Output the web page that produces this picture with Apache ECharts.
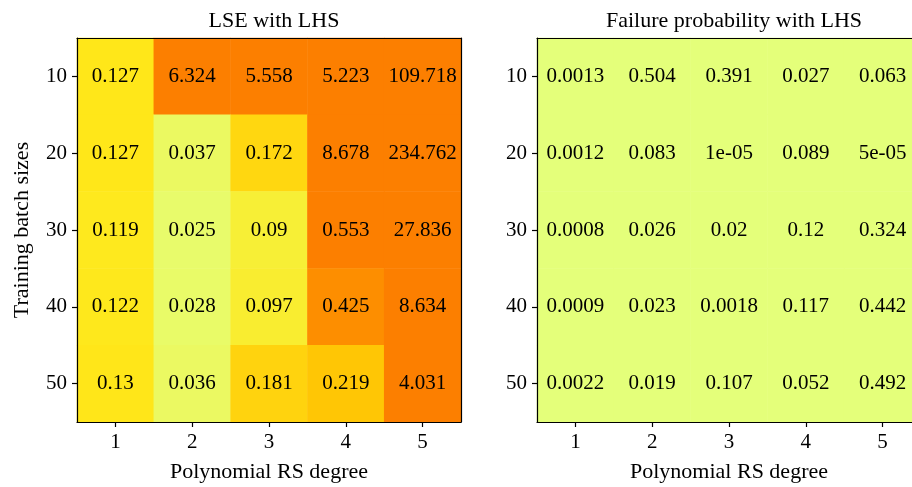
<!DOCTYPE html>
<html><head><meta charset="utf-8">
<script src="https://cdn.jsdelivr.net/npm/echarts@6/dist/echarts.min.js"></script>
<style>html,body{margin:0;padding:0;background:#fff}#c{width:912px;height:487px}</style>
</head><body><div id="c"></div>
<script>
const degrees = ['1', '2', '3', '4', '5'];
const batchSizes = ['10', '20', '30', '40', '50'];
const lseValues = [
  [0.127, 6.324, 5.558, 5.223, 109.718],
  [0.127, 0.037, 0.172, 8.678, 234.762],
  [0.119, 0.025, 0.09, 0.553, 27.836],
  [0.122, 0.028, 0.097, 0.425, 8.634],
  [0.13, 0.036, 0.181, 0.219, 4.031]
];
const failValues = [
  [0.0013, 0.504, 0.391, 0.027, 0.063],
  [0.0012, 0.083, 1e-5, 0.089, 5e-5],
  [0.0008, 0.026, 0.02, 0.12, 0.324],
  [0.0009, 0.023, 0.0018, 0.117, 0.442],
  [0.0022, 0.019, 0.107, 0.052, 0.492]
];
const titles = ['LSE with LHS', 'Failure probability with LHS'];
const xName = 'Polynomial RS degree';
const yName = 'Training batch sizes';

const FONT = "'Liberation Serif','Times New Roman',serif";
const FS = 21;
const FS_T = 22;

function fmt(v) {
  if (v !== 0 && Math.abs(v) < 1e-4) {
    return v.toExponential().replace(/e([+-])(\d)$/, 'e$10$2');
  }
  return String(v);
}
function toData(arr) {
  const d = [];
  arr.forEach((row, yi) => row.forEach((v, xi) => d.push([xi, yi, v])));
  return d;
}

const grids = [
  { left: 77, top: 38, width: 384, height: 384 },
  { left: 537, top: 38, width: 384, height: 384 }
];

const xAxes = [], yAxes = [];
grids.forEach((g, i) => {
  xAxes.push({
    type: 'category', data: degrees, gridIndex: i, z: 10,
    axisLine: { show: true, lineStyle: { color: '#000', width: 1.2 } },
    axisTick: { show: true, alignWithLabel: true, length: 5, lineStyle: { color: '#000', width: 1.2 } },
    axisLabel: { color: '#000', fontFamily: FONT, fontSize: FS, margin: 10 },
    name: xName, nameLocation: 'middle', nameGap: 39,
    nameTextStyle: { color: '#000', fontFamily: FONT, fontSize: FS_T },
    splitLine: { show: false }
  });
  xAxes.push({
    type: 'category', data: degrees, gridIndex: i, position: 'top', z: 10,
    axisLine: { show: true, lineStyle: { color: '#000', width: 1.2 } },
    axisTick: { show: false }, axisLabel: { show: false }, splitLine: { show: false }
  });
  yAxes.push({
    type: 'category', data: batchSizes, gridIndex: i, inverse: true, z: 10,
    axisLine: { show: true, lineStyle: { color: '#000', width: 1.2 } },
    axisTick: { show: true, alignWithLabel: true, length: 5, lineStyle: { color: '#000', width: 1.2 } },
    axisLabel: { color: '#000', fontFamily: FONT, fontSize: FS, margin: 10 },
    name: i === 0 ? yName : '', nameLocation: 'middle', nameGap: 44, nameRotate: 90,
    nameTextStyle: { color: '#000', fontFamily: FONT, fontSize: FS_T },
    splitLine: { show: false }
  });
  yAxes.push({
    type: 'category', data: batchSizes, gridIndex: i, position: 'right', inverse: true, z: 10,
    axisLine: { show: true, lineStyle: { color: '#000', width: 1.2 } },
    axisTick: { show: false }, axisLabel: { show: false }, splitLine: { show: false }
  });
});

const labelStyle = {
  show: true, color: '#000', fontFamily: FONT, fontSize: FS,
  formatter: p => fmt(p.value[2])
};

const option = {
  animation: false,
  backgroundColor: '#fff',
  title: titles.map((t, i) => ({
    text: t, left: grids[i].left + grids[i].width / 2, top: 5, textAlign: 'center',
    textStyle: { color: '#000', fontFamily: FONT, fontSize: FS_T, fontWeight: 'normal' }
  })),
  grid: grids.map(g => Object.assign({ containLabel: false, outerBoundsMode: 'none' }, g)),
  xAxis: xAxes,
  yAxis: yAxes,
  visualMap: [
    { type: 'continuous', show: false, seriesIndex: 0, min: 0.006, max: 0.48, dimension: 2,
      inRange: { color: ['#e4ff7a', '#ffe81a', '#ffbd00', '#ffa000', '#fc7f00'] },
      outOfRange: { color: '#fc7f00' } },
    { type: 'continuous', show: false, seriesIndex: 1, min: 0, max: 1, dimension: 2,
      inRange: { color: ['#e4ff7a', '#e4ff7a'] } }
  ],
  series: [
    { type: 'heatmap', xAxisIndex: 0, yAxisIndex: 0, data: toData(lseValues), label: labelStyle,
      emphasis: { disabled: true } },
    { type: 'heatmap', xAxisIndex: 2, yAxisIndex: 2, data: toData(failValues), label: labelStyle,
      emphasis: { disabled: true } }
  ]
};

const chart = echarts.init(document.getElementById('c'), null, { renderer: 'canvas' });
chart.setOption(option);
</script></body></html>
